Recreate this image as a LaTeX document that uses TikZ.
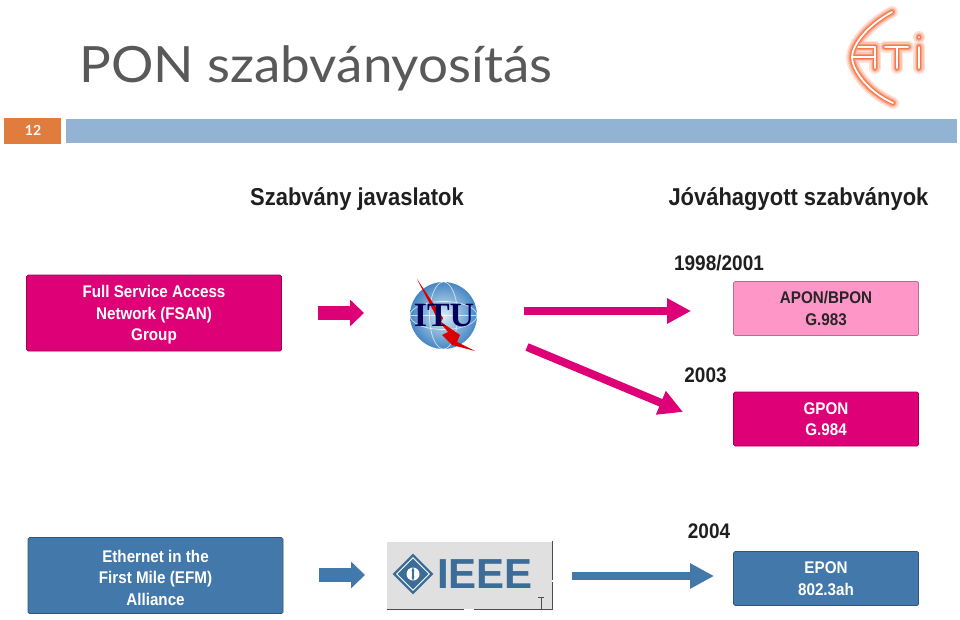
\documentclass[tikz,border=0pt]{standalone}
\usepackage{fontspec}
\setmainfont{Liberation Sans}
\newfontfamily\titlefont[FakeStretch=1.06]{Lato}
\newfontfamily\numfont{Lato}
\newfontfamily\labelfont[FakeStretch=0.9]{Liberation Sans}
\newfontfamily\itufont{Liberation Serif}
\usetikzlibrary{arrows.meta,shapes.geometric}
\definecolor{magenta1}{RGB}{222,0,118}
\definecolor{pinklight}{RGB}{255,150,200}
\definecolor{blue1}{RGB}{67,121,170}
\definecolor{barblue}{RGB}{147,179,212}
\definecolor{barorange}{RGB}{224,125,62}
\definecolor{logoorange}{RGB}{247,120,75}
\definecolor{itublue}{RGB}{70,135,195}
\definecolor{itulight}{RGB}{215,235,245}
\newcommand\toppad{\rule{0pt}{16.5pt}}
\tikzset{
	box/.style={draw=#1!72!black,line width=0.7pt,rounded corners=1.5pt,fill=#1,inner sep=0pt,text=white,font=\labelfont\bfseries\fontsize{16.9}{21.5}\selectfont,align=center},
	head/.style={font=\labelfont\bfseries\fontsize{24.4}{28}\selectfont,text=black!88,inner sep=0pt},
	year/.style={font=\labelfont\bfseries\fontsize{21.1}{24}\selectfont,text=black!88,inner sep=0pt},
	longarrow/.style={line width=8pt,draw=#1,-{Triangle[length=24pt,width=24pt]}},
	shortarrow/.style={line width=14pt,draw=#1,-{Triangle[length=14pt,width=26pt]}},
	logohalo/.style={line width=12pt,draw=logoorange!22,line cap=round},
	logoglow/.style={line width=9pt,draw=logoorange!42,line cap=round},
	logoline/.style={line width=6.4pt,draw=logoorange!75,line cap=round},
	logocore/.style={line width=4pt,draw=logoorange,line cap=round},
	logowhite/.style={line width=1.8pt,draw=white,line cap=round}
}
\begin{document}
\begin{tikzpicture}[x=1pt,y=-1pt]
	\useasboundingbox (0,0) rectangle (960,620);
	% title bar
	\node[anchor=west,inner sep=0pt,text=black!65,font=\titlefont\fontsize{50}{56}\selectfont] (title) at (79,68) {PON szabványosítás};
	\fill[barorange] (4,118) rectangle (61,144);
	\node[text=white,font=\numfont\bfseries\fontsize{14}{16}\selectfont] (num) at (33,130) {12};
	\fill[barblue] (66,119) rectangle (957,143);
	% logo
	\foreach \st in {logohalo,logoglow,logoline,logocore,logowhite}{
		\draw[\st] (892,12) .. controls (866,26) and (852,46) .. (852,57) .. controls (852,70) and (868,92) .. (893,103);
		\draw[\st] (852,57) -- (875,57) (858,47) -- (875,47) (875,47) -- (875,68);
		\draw[\st] (885,47) -- (908,47) (897,47) -- (897,68);
		\draw[\st] (919,47) -- (919,68) (919,37) -- (919,37.5);
	}
	% heads
	\node[head] (propose) at (357,199.5) {Szabvány javaslatok};
	\node[head] (approved) at (798.5,199.5) {Jóváhagyott szabványok};
	% left boxes
	\node[box=magenta1,minimum width=255pt,minimum height=76pt] (fsan) at (154,313) {\toppad Full Service Access\\Network (FSAN)\\Group};
	\node[box=blue1,minimum width=255pt,minimum height=76pt] (efm) at (155.5,575.5) {\toppad Ethernet in the\\First Mile (EFM)\\Alliance};
	% right boxes
	\node[box=pinklight,text=black!85,minimum width=185pt,minimum height=54pt] (apon) at (826,308.5) {APON/BPON\\G.983};
	\node[box=magenta1,minimum width=185pt,minimum height=54pt] (gpon) at (826,419) {GPON\\G.984};
	\node[box=blue1,minimum width=185pt,minimum height=54pt] (epon) at (826,578.5) {EPON\\802.3ah};
	% years
	\node[year] (y1) at (719,263.5) {1998/2001};
	\node[year] (y2) at (705.5,375) {2003};
	\node[year] (y3) at (709,531) {2004};
	% itu logo
	\node[circle,minimum size=67pt,inner sep=0pt,inner color=itulight,outer color=itublue] (itu) at (443.5,315.5) {};
	\draw[white,line width=0.7pt,opacity=0.7] (itu.center) ellipse(14 and 33.5) (itu.west) -- (itu.east) (itu.center) ellipse(33.5 and 14);
	\fill[red!85!black] (417,279) -- (443,318) -- (441,322) -- (460,335) -- (457,342) -- (475,351) -- (452,345) -- (442,335) -- (448,332) -- (438,320) -- cycle;
	\node[text=blue!35!black,font=\itufont\bfseries\fontsize{34}{34}\selectfont,inner sep=0pt] (itutext) at (444,316) {ITU};
	% ieee logo
	\fill[black!12] (387,542) rectangle (552,609);
	\draw[black!70,line width=0.8pt] (552,541) -- (552,580) (552,582) -- (552,609) -- (474,609) (464,609) -- (387,609);
	\draw[black!70,line width=0.8pt] (541,597) -- (541,609) (538,597) -- (544,597);
	\node[diamond,fill=blue1!90!black,minimum size=41pt,inner sep=0pt] (diam) at (413,574) {};
	\node[diamond,fill=white,minimum size=34pt,inner sep=0pt] (diamwhite) at (413,574) {};
	\node[diamond,fill=blue1!90!black,minimum size=31pt,inner sep=0pt] (diamin) at (413,574) {};
	\node[circle,fill=white,minimum size=13pt,inner sep=0pt] (diamhole) at (413,574) {};
	\draw[blue1!90!black,line width=1.6pt,{Stealth[length=4pt]}-{Stealth[length=4pt]}] (diamhole.north) -- (diamhole.south);
	\node[text=blue1!90!black,font=\bfseries\fontsize{42}{42}\selectfont,inner sep=0pt,anchor=west] (ieeetext) at (437,574) {IEEE};
	% arrows
	\coordinate (a1) at (524,311);
	\coordinate (a2) at (691,311);
	\coordinate (b1) at (527,347);
	\coordinate (b2) at (683,412);
	\coordinate (c1) at (572,576);
	\coordinate (c2) at (714,576);
	\coordinate (d1) at (318,313);
	\coordinate (d2) at (364,313);
	\coordinate (e1) at (319,575);
	\coordinate (e2) at (365,575);
	\draw[longarrow=magenta1] (a1) -- (a2);
	\draw[longarrow=magenta1] (b1) -- (b2);
	\draw[longarrow=blue1] (c1) -- (c2);
	\draw[shortarrow=magenta1] (d1) -- (d2);
	\draw[shortarrow=blue1] (e1) -- (e2);
\end{tikzpicture}
\end{document}
